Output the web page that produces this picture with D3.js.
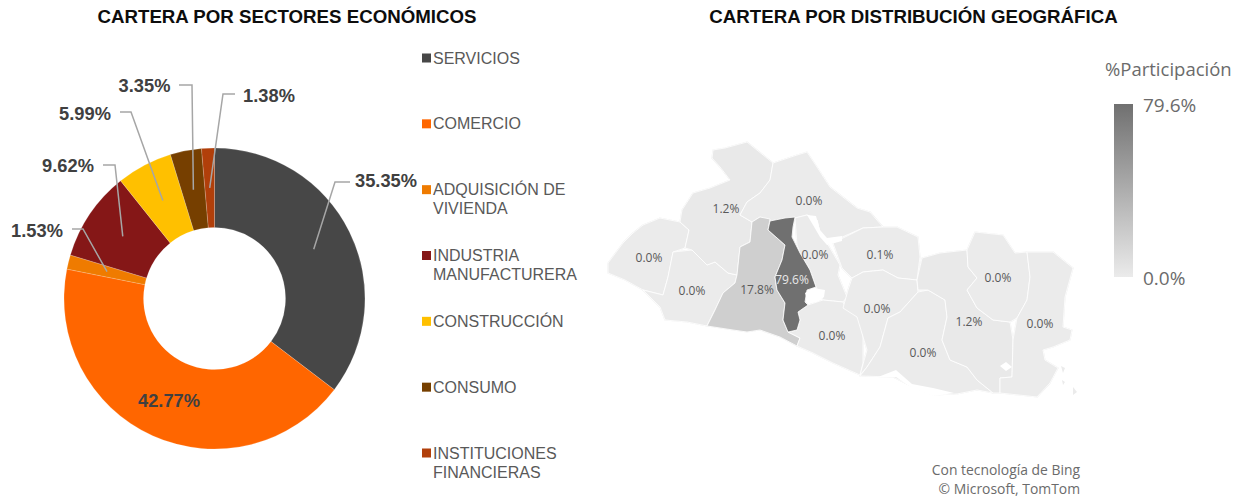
<!DOCTYPE html>
<html><head><meta charset="utf-8">
<style>html,body{margin:0;padding:0;background:#fff}svg{display:block}</style>
<script src="https://cdnjs.cloudflare.com/ajax/libs/d3/7.8.5/d3.min.js"></script>
</head><body><svg id="c" width="1241" height="500"></svg>
<script>
// ---- donut data
const sectorNames=["SERVICIOS","COMERCIO","ADQUISICIÓN DE VIVIENDA","INDUSTRIA MANUFACTURERA","CONSTRUCCIÓN","CONSUMO","INSTITUCIONES FINANCIERAS"];
const sectorLegendLines=[["SERVICIOS"],["COMERCIO"],["ADQUISICIÓN DE","VIVIENDA"],["INDUSTRIA","MANUFACTURERA"],["CONSTRUCCIÓN"],["CONSUMO"],["INSTITUCIONES","FINANCIERAS"]];
const sectorValues=[35.35,42.77,1.53,9.62,5.99,3.35,1.38];
const sectorColors=["#474747","#ff6600","#ef7b00","#851717","#ffc000","#763f00","#b13f0a"];
// ---- map data: department outlines in map units
const deptNames=["Ahuachapán","Sonsonate","Santa Ana","Chalatenango","Cuscatlán","La Libertad","La Paz","Cabañas","San Vicente","Usulután","San Miguel","Morazán","La Unión","San Salvador"];
const deptValues=[0.0,0.0,1.2,0.0,0.0,17.8,0.0,0.1,0.0,0.0,1.2,0.0,0.0,79.6];
const deptShapes=[
[[8,133],[23,113],[33,103],[43,95],[60,88],[80,92],[89,100],[85,118],[73,122],[68,147],[63,165],[43,160],[25,150],[8,143]],
[[73,122],[92,120],[107,135],[115,132],[128,143],[137,145],[135,153],[123,163],[115,180],[107,196],[87,192],[65,190],[60,177],[43,160],[63,165],[68,147]],
[[113,20],[112,28],[120,37],[130,50],[110,58],[93,63],[82,80],[80,92],[89,100],[85,118],[92,120],[107,135],[115,132],[128,143],[137,145],[140,117],[150,112],[152,92],[140,85],[147,72],[160,63],[170,50],[173,33],[147,12],[125,18]],
[[173,33],[197,25],[207,22],[217,37],[230,57],[257,78],[270,82],[283,97],[263,98],[240,108],[227,113],[220,103],[217,90],[207,85],[195,88],[170,92],[160,87],[152,92],[140,85],[147,72],[160,63],[170,50]],
[[195,88],[207,85],[217,90],[220,103],[227,113],[240,135],[238,145],[247,167],[243,172],[223,170],[216,157],[210,140],[200,123],[197,115]],
[[160,87],[170,89],[168,100],[185,115],[182,130],[175,147],[177,160],[185,173],[183,190],[188,202],[200,208],[197,216],[180,207],[160,200],[147,202],[133,200],[107,196],[115,180],[123,163],[135,153],[137,145],[140,117],[150,112],[152,92]],
[[198,182],[208,175],[223,170],[243,172],[247,180],[258,183],[263,207],[263,233],[260,245],[233,233],[213,223],[197,216],[200,208],[188,202],[197,200],[200,190]],
[[233,113],[263,98],[283,97],[297,97],[318,107],[320,127],[317,150],[298,148],[283,140],[263,142],[252,148],[242,138]],
[[252,148],[263,142],[283,140],[298,148],[317,150],[318,162],[300,182],[288,188],[280,217],[267,237],[260,245],[267,220],[257,187],[243,178],[248,160]],
[[318,162],[328,160],[345,170],[347,187],[342,210],[350,230],[367,237],[377,250],[393,263],[377,260],[357,264],[333,265],[313,257],[293,247],[260,246],[267,237],[280,217],[288,188],[300,182]],
[[317,150],[322,128],[340,123],[367,120],[368,137],[377,148],[367,160],[377,178],[393,190],[410,192],[413,210],[412,247],[400,248],[400,263],[393,263],[377,250],[367,237],[350,230],[342,210],[347,187],[345,170],[328,160],[318,160]],
[[367,120],[375,102],[403,105],[415,123],[427,122],[430,147],[427,170],[417,188],[410,192],[393,190],[377,178],[367,160],[377,148],[368,137]],
[[427,122],[453,122],[473,138],[465,167],[463,197],[472,200],[470,210],[453,217],[443,220],[445,230],[458,238],[450,253],[437,267],[400,263],[400,248],[412,247],[413,210],[417,188],[427,170],[430,147]],
[[168,100],[170,91],[185,88],[195,87],[193,97],[192,107],[196,115],[200,123],[210,140],[216,157],[207,160],[205,172],[208,175],[198,182],[200,190],[197,200],[188,202],[183,190],[185,173],[177,160],[175,147],[182,130],[185,115]]
];
const waterShapes=[
[[205,163],[213,158],[225,160],[224,167],[217,172],[208,173]],
[[207,85],[216,86],[220,100],[227,108],[242,106],[242,111],[227,115],[220,107],[213,95]],
[[278,247],[296,240],[312,254],[333,258],[354,263],[333,266],[312,258],[296,247]],
[[400,236],[406,232],[412,237],[406,241]]
];
const islandShapes=[[[461,236],[465,238],[463,243]],[[462,250],[465,252],[463,255]],[[473,257],[477,262],[473,265]]];
const mapLegendLabels=["79.6%","0.0%"];
const texts={t1:"CARTERA POR SECTORES ECONÓMICOS",t2:"CARTERA POR DISTRIBUCIÓN GEOGRÁFICA",lt:"%Participación",b1:"Con tecnología de Bing",b2:"© Microsoft, TomTom"};

const svg=d3.select("#c");
const SANS="'Liberation Sans',Arial,sans-serif", OPEN="'Open Sans',sans-serif";
// titles
svg.append("text").attr("x",287).attr("y",23).attr("text-anchor","middle").attr("font-family",SANS).attr("font-weight",700).attr("font-size",18.7).attr("fill","#0d0d0d").text(texts.t1);
svg.append("text").attr("x",913.5).attr("y",23).attr("text-anchor","middle").attr("font-family",SANS).attr("font-weight",700).attr("font-size",18.7).attr("fill","#0d0d0d").text(texts.t2);

// donut
const cx=214.5,cy=298.5,R=150.5,r0=71;
const pie=d3.pie().sort(null).value(d=>d)(sectorValues);
const arc=d3.arc().innerRadius(r0).outerRadius(R);
const g=svg.append("g").attr("transform",`translate(${cx},${cy})`);
g.selectAll("path").data(pie).join("path").attr("d",arc).attr("fill",(d,i)=>sectorColors[i]).attr("stroke","#fff").attr("stroke-opacity",.35).attr("stroke-width",.5);
// leader lines: label anchor [elbowEnd, elbow] in page space, ending at slice centroid
const leaders=[{i:0,a:[350,182],b:[335,182]},{i:2,a:[72,229],b:[83,229]},{i:3,a:[103,165],b:[115,165]},{i:4,a:[120,112],b:[131,112]},{i:5,a:[179,85],b:[192,85]},{i:6,a:[235,94],b:[223,94]}];
const line=d3.line();
leaders.forEach(l=>{const c=arc.centroid(pie[l.i]);
 svg.append("path").attr("d",line([l.a,l.b,[c[0]+cx,c[1]+cy]])).attr("fill","none").attr("stroke","#a6a6a6").attr("stroke-width",1.5);});
const pctPos=[[386,187],[169,407],[37,237],[68,172],[85,120],[144.5,92],[269,102]];
svg.append("g").selectAll("text").data(sectorValues).join("text").attr("x",(d,i)=>pctPos[i][0]).attr("y",(d,i)=>pctPos[i][1])
 .attr("text-anchor","middle").attr("font-family",SANS).attr("font-weight",700).attr("font-size",18.3).attr("fill","#404040").text(d=>d.toFixed(2)+"%");
// legend
const legY=d3.scalePoint().domain(sectorNames).range([58,453]);
const lg=svg.append("g").selectAll("g").data(sectorNames).join("g").attr("transform",d=>`translate(422,${legY(d)})`);
lg.append("rect").attr("x",0).attr("y",-4.5).attr("width",9).attr("height",9).attr("fill",(d,i)=>sectorColors[i]);
lg.append("text").attr("x",11).attr("font-family",SANS).attr("font-size",16).attr("fill","#595959")
 .selectAll("tspan").data((d,i)=>sectorLegendLines[i]).join("tspan").attr("x",11).attr("y",(d,j)=>5.5+j*19).text(d=>d);

// map
const mx=d3.scaleLinear().domain([0,500]).range([600,1100]);
const my=d3.scaleLinear().domain([0,270]).range([130,400]);
const color=d3.scaleLinear().domain([0,79.6]).range(["#ebebeb","#707070"]);
const defs=svg.append("defs");
defs.append("filter").attr("id","bl").attr("x","-5%").attr("y","-5%").attr("width","110%").attr("height","110%").append("feGaussianBlur").attr("stdDeviation",.6);
const grad=defs.append("linearGradient").attr("id","lg").attr("x1",0).attr("x2",0).attr("y1",0).attr("y2",1);
grad.append("stop").attr("offset",0).attr("stop-color",color(79.6));
grad.append("stop").attr("offset",1).attr("stop-color",color(0));
const shape=d3.line().x(d=>mx(d[0])).y(d=>my(d[1])).curve(d3.curveLinearClosed);
const mg=svg.append("g").attr("filter","url(#bl)");
mg.selectAll("path.b").data(deptShapes).join("path").attr("class","b").attr("d",shape).attr("fill",color(0)).attr("stroke",color(0)).attr("stroke-width",1.2).attr("stroke-linejoin","round");
mg.selectAll("path.d").data(deptShapes).join("path").attr("class","d").attr("d",shape)
 .attr("fill",(d,i)=>color(deptValues[i])).attr("stroke","#fff").attr("stroke-width",.8).attr("stroke-linejoin","round");
mg.selectAll("path.i").data(islandShapes).join("path").attr("class","i").attr("d",shape).attr("fill","#ebebeb");
mg.selectAll("path.w").data(waterShapes).join("path").attr("class","w").attr("d",shape).attr("fill","#fff");
// labels, in map units
const deptLabelPos=[[49,129],[92,162],[126,80],[209,72],[215,126],[157,161],[232,207],[280,126],[277,180],[323,224],[369,193],[398,149],[440,195],[192,151]];
svg.append("g").selectAll("text").data(deptValues).join("text").attr("x",(d,i)=>mx(deptLabelPos[i][0])).attr("y",(d,i)=>my(deptLabelPos[i][1]))
 .attr("text-anchor","middle").attr("dominant-baseline","middle").attr("font-family",OPEN).attr("font-size",12).attr("fill",d=>d>50?"#e8e8e8":"#595959").text(d=>d.toFixed(1)+"%");

// map legend
const ly=d3.scaleLinear().domain([79.6,0]).range([104,277]);
svg.append("rect").attr("x",1114).attr("width",19).attr("y",ly(79.6)).attr("height",ly(0)-ly(79.6)).attr("fill","url(#lg)");
svg.append("text").attr("x",1105).attr("y",76).attr("font-family",OPEN).attr("font-size",18.5).attr("fill","#6b6b6b").text(texts.lt);
svg.append("g").selectAll("text").data([79.6,0]).join("text").attr("x",1143).attr("y",d=>ly(d)+8).attr("font-family",OPEN).attr("font-size",19).attr("fill","#6b6b6b").text((d,i)=>mapLegendLabels[i]);
svg.append("text").attr("x",1080).attr("y",475).attr("text-anchor","end").attr("font-family",OPEN).attr("font-size",13.9).attr("fill","#6b6b6b").text(texts.b1);
svg.append("text").attr("x",1080).attr("y",494).attr("text-anchor","end").attr("font-family",OPEN).attr("font-size",13.9).attr("fill","#6b6b6b").text(texts.b2);
</script></body></html>
